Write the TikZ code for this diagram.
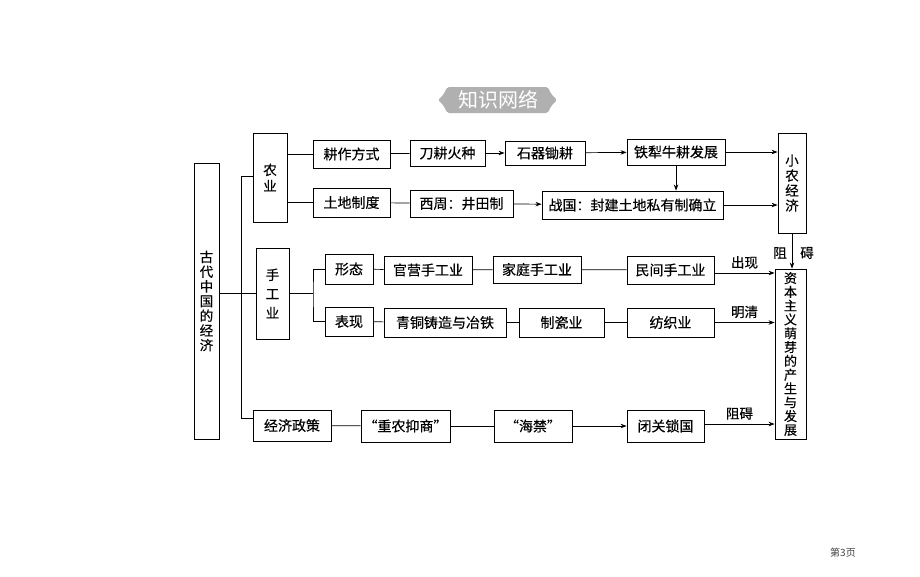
\documentclass[tikz,border=0pt]{standalone}
\usepackage{fontspec}
\newfontfamily\cjk[FakeBold=0.4]{Noto Sans CJK SC}
\newfontfamily\cjklight{Noto Sans CJK SC}
\usetikzlibrary{arrows.meta}

\begin{document}
\begin{tikzpicture}[x=1pt, y=-1pt, line width=0.7pt,
  box/.style={draw, line width=0.9pt, inner sep=0pt, font=\cjk\fontsize{14}{15}\selectfont},
  vbox/.style={box, align=center, font=\cjk\fontsize{13.5}{#1}\selectfont},
  arr/.style={-{Stealth[length=6pt,width=4.5pt]}},
  lbl/.style={font=\cjk\fontsize{13.5}{15}\selectfont, inner sep=0pt}]
  \useasboundingbox (0,0) rectangle (920,576);

  % title badge
  \fill[gray!62, rounded corners=2pt] (447,87) -- (548,87) -- (551,94) -- (557,100) -- (551,106)
    -- (548,113) -- (447,113) -- (444,106) -- (438,100) -- (444,94) -- cycle;
  \node[font=\cjklight\fontsize{20}{22}\selectfont, text=white] (title) at (498,100) {知识网络};

  % left column
  \node[vbox=14.7, minimum width=25pt, minimum height=276pt] (main) at (206.5,301) {古\\代\\中\\国\\的\\经\\济};
  \node[vbox=16, minimum width=34pt, minimum height=89pt] (nong) at (270,177.5) {农\\业};
  \node[vbox=19, minimum width=33pt, minimum height=91pt] (shou) at (272.5,293.5) {手\\工\\业};
  \node[box, minimum width=78pt, minimum height=31pt] (jing) at (292,425.5) {经济政策};

  % agriculture
  \node[box, minimum width=77pt, minimum height=28pt] (geng) at (351.5,154) {耕作方式};
  \node[box, minimum width=75pt, minimum height=26pt] (dao) at (447.5,153) {刀耕火种};
  \node[box, minimum width=80pt, minimum height=24pt] (shiqi) at (545,153) {石器锄耕};
  \node[box, minimum width=98pt, minimum height=26pt] (tieli) at (676,152) {铁犁牛耕发展};
  \node[box, minimum width=77pt, minimum height=29pt] (tudi) at (351.5,202.5) {土地制度};
  \node[box, minimum width=103pt, minimum height=27pt] (xizhou) at (461.5,203.5) {西周：井田制};
  \node[box, minimum width=181pt, minimum height=28pt] (zhanguo) at (632.5,205) {战国：封建土地私有制确立};
  \node[vbox=15, minimum width=28pt, minimum height=100pt] (xiaonong) at (792,183) {小\\农\\经\\济};

  % handicraft
  \node[box, minimum width=48pt, minimum height=30pt] (xingtai) at (349,269) {形态};
  \node[box, minimum width=88pt, minimum height=28pt] (guanying) at (428,270) {官营手工业};
  \node[box, minimum width=88pt, minimum height=27pt] (jiating) at (537,269.5) {家庭手工业};
  \node[box, minimum width=87pt, minimum height=28pt] (minjian) at (670.5,270) {民间手工业};
  \node[box, minimum width=48pt, minimum height=29pt] (biaoxian) at (349,321.5) {表现};
  \node[box, minimum width=122pt, minimum height=29pt] (qingtong) at (445,322.5) {青铜铸造与冶铁};
  \node[box, minimum width=85pt, minimum height=29pt] (zhici) at (561.5,322.5) {制瓷业};
  \node[box, minimum width=87pt, minimum height=29pt] (fangzhi) at (670.5,322.5) {纺织业};

  % policy
  \node[box, minimum width=89pt, minimum height=32pt] (zhongnong) at (405.5,426) {“重农抑商”};
  \node[box, minimum width=78pt, minimum height=32pt] (haijin) at (533,426) {“海禁”};
  \node[box, minimum width=77pt, minimum height=32pt] (biguan) at (665.5,426) {闭关锁国};

  \node[box, align=center, font=\cjk\fontsize{13}{13.8}\selectfont, minimum width=31pt, minimum height=170pt] (ziben) at (790.5,354)
    {资\\本\\主\\义\\萌\\芽\\的\\产\\生\\与\\发\\展};

  % trunk
  \coordinate (tTop) at (241,176);
  \coordinate (tBot) at (241,418);
  \draw (nong.west |- tTop) -- (tTop) -- (tBot) -- (jing.west |- tBot);
  \draw (main.east |- shou.west) -- (shou.west);

  % agriculture links
  \draw (nong.east |- geng) -- (geng);
  \draw (nong.east |- tudi) -- (tudi);
  \draw (geng) -- (dao);
  \draw[arr] (dao) -- (shiqi);
  \draw[arr] (shiqi) -- (tieli);
  \draw[arr] (tieli) -- (xiaonong.west |- tieli);
  \draw (tudi) -- (xizhou);
  \draw[arr] (xizhou) -- (zhanguo);
  \draw[arr] (tieli.south) -- (tieli.south |- zhanguo.north);
  \draw[arr] (zhanguo) -- (xiaonong.west |- zhanguo);
  \draw[arr] (xiaonong.south) -- (xiaonong.south |- ziben.north);
  \node[lbl] (zu) at (780,253) {阻};
  \node[lbl] (ai) at (807,253) {碍};

  % handicraft links
  \coordinate (fork) at (313,293.5);
  \draw (shou.east) -- (fork);
  \draw (xingtai.west) -| (fork) |- (biaoxian.west);
  \draw (xingtai) -- (guanying);
  \draw (guanying) -- (jiating);
  \draw (jiating) -- (minjian);
  \draw[arr] (minjian.east |- 0,273) -- (ziben.west |- 0,273) node[lbl, midway, above=4pt] (chuxian) {出现};
  \draw (biaoxian) -- (qingtong);
  \draw (qingtong) -- (zhici);
  \draw (zhici) -- (fangzhi);
  \draw[arr] (fangzhi) -- (ziben.west |- fangzhi) node[lbl, midway, above=4pt] (mingqing) {明清};

  % policy links
  \draw (jing) -- (zhongnong);
  \draw (zhongnong) -- (haijin);
  \draw[arr] (haijin) -- (biguan);
  \draw[arr] (biguan.east |- 0,424) -- (ziben.west |- 0,424) node[lbl, midway, above=4pt] (zuai) {阻碍};

  \node[font=\cjklight\fontsize{10}{12}\selectfont, text=black!75] (page) at (843,553) {第3页};
\end{tikzpicture}
\end{document}
